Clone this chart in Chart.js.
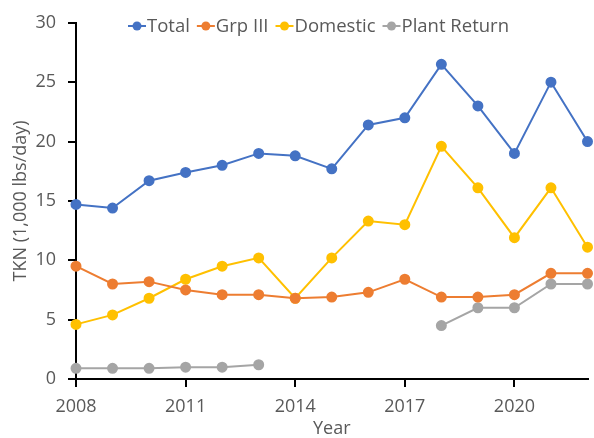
<!DOCTYPE html>
<html>
<head>
<meta charset="utf-8">
<script src="https://cdn.jsdelivr.net/npm/chart.js@4/dist/chart.umd.min.js"></script>
<style>
  html, body { margin: 0; padding: 0; background: #fff; }
  #wrap { width: 594px; height: 438px; position: relative; }
</style>
</head>
<body>
<div id="wrap"><canvas id="c"></canvas></div>
<script>
// TKN loads by source, 1,000 lbs/day
const years = [2008, 2009, 2010, 2011, 2012, 2013, 2014, 2015, 2016, 2017, 2018, 2019, 2020, 2021, 2022];
const total       = [14.7, 14.4, 16.7, 17.4, 18.0, 19.0, 18.8, 17.7, 21.4, 22.0, 26.5, 23.0, 19.0, 25.0, 20.0];
const grpIII      = [9.5, 8.0, 8.2, 7.5, 7.1, 7.1, 6.8, 6.9, 7.3, 8.4, 6.9, 6.9, 7.1, 8.9, 8.9];
const domestic    = [4.6, 5.4, 6.8, 8.4, 9.5, 10.2, 6.8, 10.2, 13.3, 13.0, 19.6, 16.1, 11.9, 16.1, 11.1];
const plantReturn = [0.9, 0.9, 0.9, 1.0, 1.0, 1.2, null, null, null, null, 4.5, 6.0, 6.0, 8.0, 8.0];
const xTicks = [2008, 2011, 2014, 2017, 2020];
const yTicks = [0, 5, 10, 15, 20, 25, 30];

const FONT = "'Open Sans', 'Liberation Sans', sans-serif";
const TEXT = '#595959';

const series = [
  { label: 'Total',        values: total,       color: '#4472C4' },
  { label: 'Grp III',      values: grpIII,      color: '#ED7D31' },
  { label: 'Domestic',     values: domestic,    color: '#FFC000' },
  { label: 'Plant Return', values: plantReturn, color: '#A5A5A5' }
];

const datasets = series.map(s => ({
  label: s.label,
  data: years.map((yr, i) => ({ x: yr, y: s.values[i] })),
  borderColor: s.color,
  backgroundColor: s.color,
  pointBackgroundColor: s.color,
  pointBorderColor: s.color,
  borderWidth: 2,
  pointRadius: 4.5,
  pointHoverRadius: 4.5,
  tension: 0,
  spanGaps: false,
  clip: false
}));

// Inline legend: line-with-marker swatches drawn inside the plot area
const inlineLegend = {
  id: 'inlineLegend',
  afterDatasetsDraw(chart) {
    const ctx = chart.ctx;
    ctx.save();
    ctx.font = '18.5px ' + FONT;
    ctx.textBaseline = 'middle';
    ctx.textAlign = 'left';
    const y = 26;
    let x = 128;
    chart.data.datasets.forEach(ds => {
      ctx.strokeStyle = ds.borderColor;
      ctx.lineWidth = 2;
      ctx.beginPath();
      ctx.moveTo(x, y);
      ctx.lineTo(x + 18, y);
      ctx.stroke();
      ctx.fillStyle = ds.borderColor;
      ctx.beginPath();
      ctx.arc(x + 9, y, 4.5, 0, Math.PI * 2);
      ctx.fill();
      ctx.fillStyle = TEXT;
      ctx.fillText(ds.label, x + 19, y + 1);
      x += 19 + ctx.measureText(ds.label).width + 7;
    });
    ctx.restore();
  }
};

new Chart(document.getElementById('c'), {
  type: 'line',
  data: { datasets },
  plugins: [inlineLegend],
  options: {
    responsive: true,
    maintainAspectRatio: false,
    animation: false,
    layout: { padding: { top: 15, right: 6, left: 0, bottom: 0 } },
    plugins: { legend: { display: false }, tooltip: { enabled: false } },
    scales: {
      x: {
        type: 'linear',
        min: 2008,
        max: 2022,
        afterBuildTicks: s => { s.ticks = xTicks.map(v => ({ value: v })); },
        afterFit: s => { s.height = 59; },
        grid: { display: true, drawOnChartArea: false, drawTicks: true, tickLength: 8, color: '#000', lineWidth: 2 },
        border: { display: true, color: '#000', width: 2 },
        ticks: { color: TEXT, font: { family: FONT, size: 18 }, padding: 9, maxRotation: 0, callback: v => String(v) },
        title: { display: true, text: 'Year', color: TEXT, font: { family: FONT, size: 18 }, padding: { top: 0, bottom: -2 } }
      },
      y: {
        min: 0,
        max: 30,
        afterBuildTicks: s => { s.ticks = yTicks.map(v => ({ value: v })); },
        afterFit: s => { s.width = 76; },
        grid: { display: true, drawOnChartArea: false, drawTicks: true, tickLength: 8, color: '#000', lineWidth: 2 },
        border: { display: true, color: '#000', width: 2 },
        ticks: { color: TEXT, font: { family: FONT, size: 18 }, padding: 12, callback: v => String(v) },
        title: { display: true, text: 'TKN (1,000 lbs/day)', color: TEXT, font: { family: FONT, size: 18 }, padding: { top: 10, bottom: 0 } }
      }
    }
  }
});
</script>
</body>
</html>
